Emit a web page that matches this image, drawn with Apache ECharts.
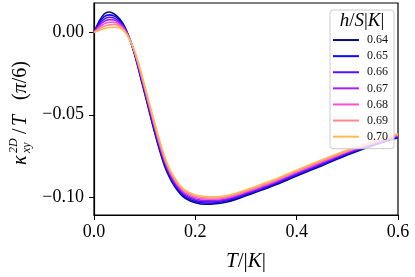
<!DOCTYPE html>
<html>
<head>
<meta charset="utf-8">
<script src="https://cdn.jsdelivr.net/npm/echarts@6/dist/echarts.min.js"></script>
<style>html,body{margin:0;padding:0;background:#fff;}#c{width:415px;height:277px;}</style>
</head>
<body>
<div id="c"></div>
<script>
var T = [0, 0.01, 0.02, 0.03, 0.04, 0.05, 0.06, 0.07, 0.08, 0.09, 0.10, 0.11, 0.12, 0.13, 0.14, 0.15, 0.16, 0.17, 0.18, 0.20, 0.22, 0.24, 0.26, 0.28, 0.30, 0.33, 0.36, 0.40, 0.45, 0.50, 0.55, 0.60];
var hLabels = ['0.64', '0.65', '0.66', '0.67', '0.68', '0.69', '0.70'];
var colors = ['#0c0c72', '#0c0cf4', '#5512ff', '#a422f8', '#ff50cf', '#ff8a8e', '#ffb852'];
var k064 = [0, .0068, .0113, .0125, .0113, .0085, .0040, -.0035, -.0132, -.0250, -.0370, -.0492, -.0612, -.0722, -.0818, -.0887, -.0940, -.0980, -.1008, -.1035, -.1045, -.1042, -.1032, -.1015, -.0993, -.0960, -.0925, -.0873, -.0810, -.0745, -.0688, -.0640];
var k065 = [0, .0058, .0097, .0108, .0100, .0076, .0035, -.0035, -.0128, -.0243, -.0362, -.0483, -.0602, -.0712, -.0808, -.0878, -.0932, -.0972, -.1000, -.1028, -.1037, -.1035, -.1025, -.1008, -.0987, -.0954, -.0919, -.0867, -.0804, -.0740, -.0684, -.0636];
var k066 = [0, .0049, .0082, .0093, .0088, .0067, .0030, -.0035, -.0124, -.0236, -.0354, -.0474, -.0592, -.0702, -.0798, -.0869, -.0923, -.0963, -.0991, -.1020, -.1029, -.1028, -.1018, -.1002, -.0981, -.0948, -.0913, -.0861, -.0798, -.0735, -.0680, -.0632];
var k067 = [0, .0040, .0068, .0079, .0076, .0058, .0024, -.0036, -.0121, -.0229, -.0346, -.0465, -.0582, -.0692, -.0788, -.0860, -.0914, -.0954, -.0983, -.1012, -.1021, -.1021, -.1012, -.0996, -.0975, -.0942, -.0907, -.0855, -.0792, -.0730, -.0676, -.0628];
var k068 = [0, .0031, .0053, .0063, .0063, .0049, .0018, -.0037, -.0118, -.0222, -.0338, -.0456, -.0572, -.0682, -.0778, -.0851, -.0905, -.0946, -.0975, -.1004, -.1013, -.1014, -.1006, -.0990, -.0969, -.0936, -.0901, -.0849, -.0786, -.0725, -.0672, -.0624];
var k069 = [0, .0022, .0038, .0047, .0050, .0040, .0012, -.0038, -.0115, -.0215, -.0330, -.0447, -.0562, -.0672, -.0768, -.0842, -.0896, -.0938, -.0967, -.0996, -.1005, -.1007, -.1000, -.0984, -.0963, -.0930, -.0895, -.0843, -.0780, -.0720, -.0668, -.0620];
var k070 = [0, .0013, .0023, .0031, .0032, .0030, .0006, -.0040, -.0112, -.0208, -.0322, -.0438, -.0552, -.0662, -.0758, -.0833, -.0887, -.0930, -.0959, -.0988, -.0997, -.0999, -.0993, -.0978, -.0957, -.0924, -.0889, -.0837, -.0774, -.0715, -.0664, -.0616];
var xTicks = [0, 0.2, 0.4, 0.6];
var yTicks = [-0.10, -0.05, 0.00];

var allSeries = [k064, k065, k066, k067, k068, k069, k070];
var serif = '"Liberation Serif", "DejaVu Serif", serif';

function fmtY(v) {
  var s = Math.abs(v).toFixed(2);
  return (v < -1e-9 ? '\u2212' : '') + s;
}

var series = allSeries.map(function (arr, i) {
  return {
    name: hLabels[i],
    type: 'line',
    symbol: 'none',
    smooth: 0.35,
    data: T.map(function (t, j) { return [t, arr[j]]; }),
    lineStyle: { color: colors[i], width: 1.6 },
    itemStyle: { color: colors[i] },
    z: 2
  };
});

var chart = echarts.init(document.getElementById('c'), null, { renderer: 'canvas' });
chart.setOption({
  animation: false,
  backgroundColor: '#fff',
  grid: { left: 94, right: 17, top: 3, bottom: 57, show: true, borderColor: '#000', borderWidth: 1.2, backgroundColor: 'transparent' },
  xAxis: {
    type: 'value', min: 0, max: 0.6, interval: 0.2,
    axisLine: { show: true, onZero: false, lineStyle: { color: '#000', width: 1.2 } },
    axisTick: { show: true, inside: false, length: 5, lineStyle: { color: '#000', width: 1 } },
    splitLine: { show: false },
    axisLabel: {
      color: '#000', fontFamily: serif, fontSize: 18, margin: 8,
      formatter: function (v) { return v.toFixed(1); }
    },
    name: '{i|T}{n|/|}{i|K}{n||}',
    nameLocation: 'middle', nameGap: 36,
    nameTextStyle: {
      rich: {
        i: { fontFamily: serif, fontStyle: 'italic', fontSize: 21, color: '#000' },
        n: { fontFamily: serif, fontSize: 21, color: '#000' }
      }
    }
  },
  yAxis: {
    type: 'value', min: -0.111, max: 0.018,
    axisLine: { show: true, onZero: false, lineStyle: { color: '#000', width: 1.2 } },
    axisTick: { show: true, length: 5, customValues: yTicks, lineStyle: { color: '#000', width: 1 } },
    splitLine: { show: false },
    axisLabel: {
      color: '#000', fontFamily: serif, fontSize: 18, margin: 10,
      customValues: yTicks,
      formatter: fmtY
    }
  },
  legend: {
    orient: 'vertical', left: 330, top: 10, z: 10,
    width: 56,
    backgroundColor: 'rgba(255,255,255,0.8)',
    borderColor: '#cccccc', borderWidth: 1, borderRadius: 3,
    padding: [22, 6, 4, 3],
    icon: 'rect',
    itemWidth: 26, itemHeight: 2, itemGap: 0,
    data: hLabels,
    textStyle: { fontFamily: serif, fontSize: 12, lineHeight: 16.1, color: '#111', padding: [0, 0, 0, 3] }
  },
  graphic: [
    {
      type: 'text', z: 100, x: 362, y: 21,
      style: {
        text: '{i|h}{n|/}{i|S}{n||}{i|K}{n||}',
        align: 'center', verticalAlign: 'middle',
        rich: {
          i: { fontFamily: serif, fontStyle: 'italic', fontSize: 19, fill: '#000' },
          n: { fontFamily: serif, fontSize: 19, fill: '#000' }
        }
      }
    },
    {
      type: 'group', x: 20, y: 112, rotation: Math.PI / 2,
      children: [
        { type: 'text', x: -53, y: 1, style: { text: '\u03ba', font: 'italic 20px ' + serif, fill: '#000', verticalAlign: 'middle' } },
        { type: 'text', x: -41, y: -6, style: { text: '2D', font: 'italic 12px ' + serif, fill: '#000', verticalAlign: 'middle' } },
        { type: 'text', x: -41, y: 7, style: { text: 'xy', font: 'italic 12px ' + serif, fill: '#000', verticalAlign: 'middle' } },
        { type: 'text', x: -22, y: 1, style: { text: '/', font: '20px ' + serif, fill: '#000', verticalAlign: 'middle' } },
        { type: 'text', x: -14, y: 1, style: { text: 'T', font: 'italic 20px ' + serif, fill: '#000', verticalAlign: 'middle' } },
        {
          type: 'text', x: 12, y: 1,
          style: {
            text: '{n|(}{i|\u03c0}{n|/6)}', verticalAlign: 'middle',
            rich: {
              i: { fontFamily: serif, fontStyle: 'italic', fontSize: 20, fill: '#000' },
              n: { fontFamily: serif, fontSize: 20, fill: '#000' }
            }
          }
        }
      ]
    }
  ],
  series: series
});
</script>
</body>
</html>
